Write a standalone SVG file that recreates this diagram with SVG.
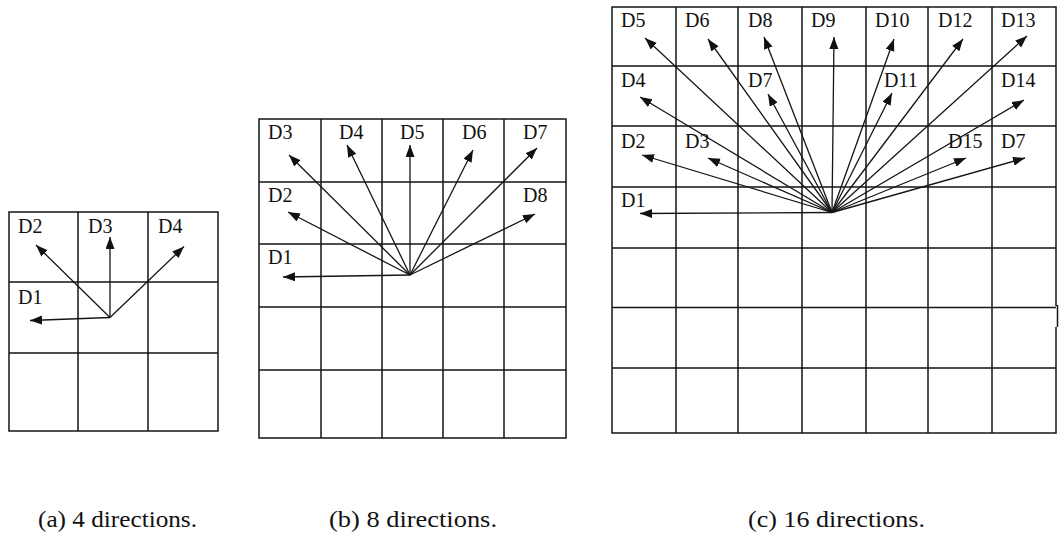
<svg xmlns="http://www.w3.org/2000/svg" width="1059" height="539" viewBox="0 0 1059 539">
  <style>
    .grid { fill: none; stroke: #151515; stroke-width: 1.5; }
    .arrow { fill: none; stroke: #151515; stroke-width: 1.3; marker-end: url(#head); }
    .lbl { font-family: "Liberation Serif", "Times New Roman", serif; font-size: 20px; fill: #111; }
    .cap { font-family: "Liberation Serif", "Times New Roman", serif; font-size: 23px; fill: #111; }
  </style>
  <defs>
    <marker id="head" markerUnits="userSpaceOnUse" markerWidth="12" markerHeight="10" refX="12" refY="4.5" orient="auto">
      <path d="M0,0 L12,4.5 L0,9 z" fill="#111"/>
    </marker>
  </defs>

  <!-- (a) 3x3 grid, 4 directions -->
  <g id="grid-a">
    <rect class="grid" x="9" y="212" width="209" height="219"/>
    <path class="grid" d="M78,212 V431 M148,212 V431 M9,282 H218 M9,353 H218"/>
    <text class="lbl" x="18" y="233">D2</text>
    <text class="lbl" x="88" y="233">D3</text>
    <text class="lbl" x="158" y="233">D4</text>
    <text class="lbl" x="18" y="304">D1</text>
  </g>

  <!-- (b) 5x5 grid, 8 directions -->
  <g id="grid-b">
    <rect class="grid" x="259" y="119" width="307" height="319"/>
    <path class="grid" d="M321,119 V438 M382,119 V438 M443,119 V438 M504,119 V438 M259,182 H566 M259,244 H566 M259,307 H566 M259,370 H566"/>
    <text class="lbl" x="268" y="139">D3</text>
    <text class="lbl" x="339" y="139">D4</text>
    <text class="lbl" x="400" y="139">D5</text>
    <text class="lbl" x="462" y="139">D6</text>
    <text class="lbl" x="523" y="139">D7</text>
    <text class="lbl" x="268" y="202">D2</text>
    <text class="lbl" x="523" y="202">D8</text>
    <text class="lbl" x="268" y="264">D1</text>
  </g>

  <!-- (c) 7x7 grid, 16 directions -->
  <g id="grid-c">
    <path class="grid" d="M1056,306 V7 H612 V433 H1056 V327 M1057.5,305 V327"/>
    <path class="grid" d="M676,7 V433 M738,7 V433 M802,7 V433 M866,7 V433 M928,7 V433 M992,7 V433 M612,66 H1056 M612,126 H1056 M612,187 H1056 M612,248 H1056 M612,307.5 H1056 M612,368 H1056"/>
    <text class="lbl" x="621" y="27">D5</text>
    <text class="lbl" x="685" y="27">D6</text>
    <text class="lbl" x="748" y="27">D8</text>
    <text class="lbl" x="811" y="27">D9</text>
    <text class="lbl" x="875" y="27">D10</text>
    <text class="lbl" x="938" y="27">D12</text>
    <text class="lbl" x="1001" y="27">D13</text>
    <text class="lbl" x="621" y="87">D4</text>
    <text class="lbl" x="748" y="87">D7</text>
    <text class="lbl" x="884" y="87">D11</text>
    <text class="lbl" x="1001" y="87">D14</text>
    <text class="lbl" x="621" y="148">D2</text>
    <text class="lbl" x="685" y="148">D3</text>
    <text class="lbl" x="948" y="148">D15</text>
    <text class="lbl" x="1001" y="148">D7</text>
    <text class="lbl" x="621" y="207">D1</text>
  </g>

  <!-- direction arrows from each centre cell -->
  <g id="connectors">
    <!-- (a) -->
    <path class="arrow" d="M110,317.5 L30,320.5"/>
    <path class="arrow" d="M110,317.5 L36,245"/>
    <path class="arrow" d="M110,317.5 L110,237"/>
    <path class="arrow" d="M110,317.5 L184,246.5"/>
    <!-- (b) -->
    <path class="arrow" d="M410,275 L283,277"/>
    <path class="arrow" d="M410,275 L288,212"/>
    <path class="arrow" d="M410,275 L289,155"/>
    <path class="arrow" d="M410,275 L347,145"/>
    <path class="arrow" d="M410,275 L410,145"/>
    <path class="arrow" d="M410,275 L473,150"/>
    <path class="arrow" d="M410,275 L537,148"/>
    <path class="arrow" d="M410,275 L535,214"/>
    <!-- (c) -->
    <path class="arrow" d="M832,212.5 L640,213.5"/>
    <path class="arrow" d="M832,212.5 L642,155"/>
    <path class="arrow" d="M832,212.5 L708,158"/>
    <path class="arrow" d="M832,212.5 L640,97"/>
    <path class="arrow" d="M832,212.5 L645,38"/>
    <path class="arrow" d="M832,212.5 L708,39"/>
    <path class="arrow" d="M832,212.5 L768,94"/>
    <path class="arrow" d="M832,212.5 L764,37"/>
    <path class="arrow" d="M832,212.5 L834,37"/>
    <path class="arrow" d="M832,212.5 L894,39"/>
    <path class="arrow" d="M832,212.5 L892,93"/>
    <path class="arrow" d="M832,212.5 L963,39"/>
    <path class="arrow" d="M832,212.5 L1027,36"/>
    <path class="arrow" d="M832,212.5 L1024,100"/>
    <path class="arrow" d="M832,212.5 L966,158"/>
    <path class="arrow" d="M832,212.5 L1025,158"/>
  </g>

  <!-- captions -->
  <g id="captions">
    <text class="cap" x="38" y="527" textLength="159" lengthAdjust="spacingAndGlyphs">(a) 4 directions.</text>
    <text class="cap" x="329" y="527" textLength="168" lengthAdjust="spacingAndGlyphs">(b) 8 directions.</text>
    <text class="cap" x="748" y="527" textLength="177" lengthAdjust="spacingAndGlyphs">(c) 16 directions.</text>
  </g>
</svg>
